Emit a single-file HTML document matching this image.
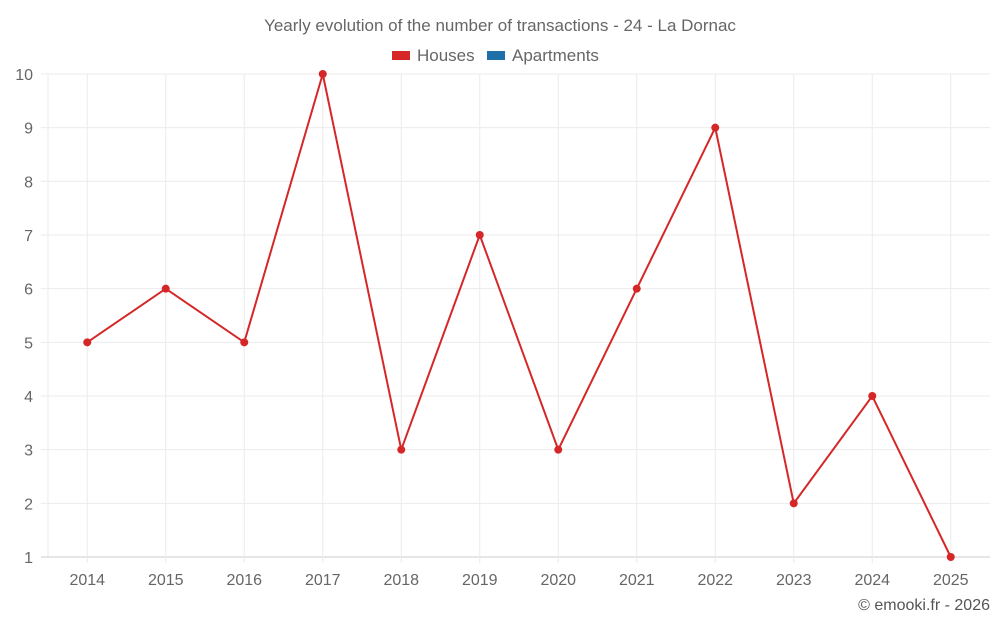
<!DOCTYPE html>
<html><head><meta charset="utf-8"><style>
body{margin:0;background:#fff;}
svg{display:block;font-family:"Liberation Sans",sans-serif;}
</style></head><body>
<svg id="chart" width="1000" height="625">
<text x="500" y="31" text-anchor="middle" font-size="17" fill="#666">Yearly evolution of the number of transactions - 24 - La Dornac</text>
<g>
<rect x="392" y="51" width="18" height="9" fill="#d62728"/>
<text x="417" y="61" font-size="17" fill="#666">Houses</text>
<rect x="487" y="51" width="18" height="9" fill="#1f6fa8"/>
<text x="512" y="61" font-size="17" fill="#666">Apartments</text>
</g>
<g id="grid"></g><g id="axes"></g><g id="series"></g>
<text x="990" y="610" text-anchor="end" font-size="16" fill="#555">© emooki.fr - 2026</text>
</svg>
<script>
const years=["2014","2015","2016","2017","2018","2019","2020","2021","2022","2023","2024","2025"];
const houses=[5,6,5,10,3,7,3,6,9,2,4,1];
const yTicks=[1,2,3,4,5,6,7,8,9,10];
const NS="http://www.w3.org/2000/svg";
const L=48,R=990,T=74,B=557,yMin=1,yMax=10;
const bw=(R-L)/years.length;
const xs=i=>L+bw*(i+0.5);
const ys=v=>B-(v-yMin)/(yMax-yMin)*(B-T);
function mk(tag,attrs,parent){const e=document.createElementNS(NS,tag);for(const k in attrs)e.setAttribute(k,attrs[k]);parent.appendChild(e);return e;}
const grid=document.getElementById('grid'),axes=document.getElementById('axes'),ser=document.getElementById('series');
const yl=mk('line',{x1:L,x2:L,y1:T,y2:B,stroke:'#ebebeb','stroke-width':1},grid);


yTicks.forEach(v=>{
 const ln=mk('line',{x1:41,x2:R,y1:ys(v),y2:ys(v),stroke:v===yMin?'#ccc':'#ebebeb','stroke-width':1},grid);
 
 
 const t=mk('text',{x:33,y:ys(v)+6,'text-anchor':'end','font-size':16,fill:'#666'},axes);
 t.textContent=v;
 
 
});
years.forEach((y,i)=>{
 const ln=mk('line',{x1:xs(i),x2:xs(i),y1:T,y2:B+6,stroke:'#ebebeb','stroke-width':1},grid);
 
 
 const t=mk('text',{x:xs(i),y:585,'text-anchor':'middle','font-size':16,fill:'#666'},axes);
 t.textContent=y;
 
 
});
const p=mk('polyline',{points:houses.map((v,i)=>xs(i)+','+ys(v)).join(' '),fill:'none',stroke:'#d62728','stroke-width':2},ser);


houses.forEach((v,i)=>{
 const c=mk('circle',{cx:xs(i),cy:ys(v),r:4,fill:'#d62728'},ser);
 
 
});
</script>
</body></html>
